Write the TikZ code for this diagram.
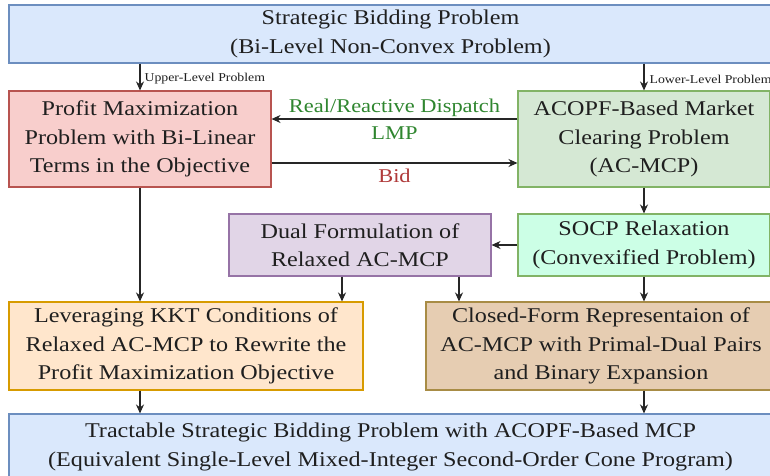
\documentclass[tikz,border=0pt]{standalone}
\usepackage{fontspec}
\setmainfont{Liberation Serif}[FakeStretch=1.15]
\usetikzlibrary{arrows.meta,calc}
\definecolor{txt}{HTML}{1F1F1F}
\definecolor{lineC}{HTML}{262626}
\definecolor{blueF}{HTML}{DAE8FC}\definecolor{blueS}{HTML}{6C8EBF}
\definecolor{redF}{HTML}{F8CECC}\definecolor{redS}{HTML}{B85450}
\definecolor{greenF}{HTML}{D5E8D4}\definecolor{greenS}{HTML}{82B366}
\definecolor{purpF}{HTML}{E1D5E7}\definecolor{purpS}{HTML}{9673A6}
\definecolor{mintF}{HTML}{CCFFE6}\definecolor{mintS}{HTML}{82B366}
\definecolor{orangeF}{HTML}{FFE6CC}\definecolor{orangeS}{HTML}{D79B00}
\definecolor{tanF}{HTML}{E6CDB2}\definecolor{tanS}{HTML}{A88C45}
\definecolor{greenT}{HTML}{2F862F}
\definecolor{redT}{HTML}{B03A3A}
\begin{document}
\begin{tikzpicture}[x=1pt,y=-1pt,
  box/.style={rectangle, draw, line width=1.1pt, inner sep=0pt, align=center, text=txt,
    font=\fontsize{21}{28.5}\selectfont},
  arr/.style={draw=lineC, line width=1.2pt, -{Stealth[length=9pt,width=8pt]}},
  elabel/.style={align=center, inner sep=0pt, font=\fontsize{19.5}{27}\selectfont},
  slabel/.style={inner sep=0pt, text=txt, font=\fontsize{12}{14}\selectfont}]
\useasboundingbox (0,0) rectangle (770,475);
\fill[white] (0,0) rectangle (770,475);
\clip (0,0) rectangle (770,475);

\node[box, fill=blueF, draw=blueS, minimum width=763pt, minimum height=58pt] (top) at (390.5,34)
  {Strategic Bidding Problem\\(Bi-Level Non-Convex Problem)};
\node[box, fill=redF, draw=redS, minimum width=262pt, minimum height=96pt] (red) at (140,139)
  {Profit Maximization\\Problem with Bi-Linear\\Terms in the Objective};
\node[box, fill=greenF, draw=greenS, minimum width=252pt, minimum height=96pt] (green) at (644,139)
  {ACOPF-Based Market\\Clearing Problem\\(AC-MCP)};
\node[box, fill=purpF, draw=purpS, minimum width=262pt, minimum height=62pt] (dual) at (360,245)
  {Dual Formulation of\\Relaxed AC-MCP};
\node[box, fill=mintF, draw=mintS, minimum width=252pt, minimum height=62pt] (socp) at (644,245)
  {SOCP Relaxation\\(Convexified Problem)};
\node[box, fill=orangeF, draw=orangeS, minimum width=354pt, minimum height=88pt] (kkt) at (186,346)
  {Leveraging KKT Conditions of\\Relaxed AC-MCP to Rewrite the\\Profit Maximization Objective};
\node[box, fill=tanF, draw=tanS, minimum width=350pt, minimum height=88pt] (closed) at (601,346)
  {Closed-Form Representaion of\\AC-MCP with Primal-Dual Pairs\\and Binary Expansion};
\node[box, fill=blueF, draw=blueS, minimum width=763pt, minimum height=66pt] (final) at (390.5,447)
  {Tractable Strategic Bidding Problem with ACOPF-Based MCP\\(Equivalent Single-Level Mixed-Integer Second-Order Cone Program)};

% connectors
\draw[arr] (top.south -| red) -- node[slabel, right, xshift=4pt, yshift=-2pt]{Upper-Level Problem} (red.north);
\draw[arr] (top.south -| green) -- node[slabel, right, xshift=5pt, yshift=-2pt]{Lower-Level Problem} (green.north);
\draw[arr] ($(green.west)+(0,-20)$) -- node[elabel, text=greenT]{Real/Reactive Dispatch\\LMP} ($(red.east)+(0,-20)$);
\draw[arr] ($(red.east)+(0,24)$) -- node[elabel, text=redT, yshift=-13pt]{Bid} ($(green.west)+(0,24)$);
\draw[arr] (green.south) -- (socp.north);
\draw[arr] (socp.west) -- (dual.east);
\draw[arr] (red.south) -- (kkt.north -| red);
\draw[arr] ($(dual.south)+(-18,0)$) -- ($(kkt.north -| dual)+(-18,0)$);
\draw[arr] ($(dual.south)+(99,0)$) -- ($(closed.north -| dual)+(99,0)$);
\draw[arr] (socp.south) -- (closed.north -| socp);
\draw[arr] (kkt.south -| red) -- (final.north -| red);
\draw[arr] (closed.south -| socp) -- (final.north -| socp);
\end{tikzpicture}
\end{document}
